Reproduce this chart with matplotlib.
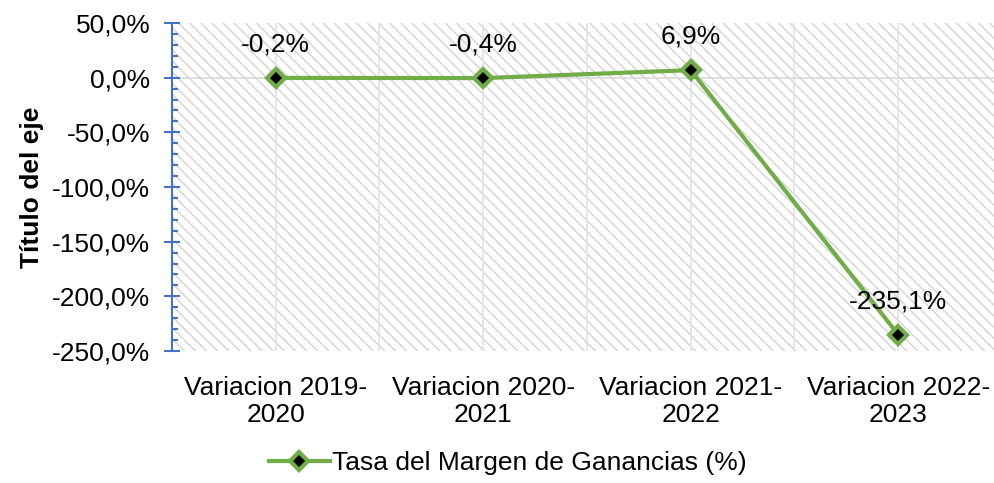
import numpy as np
import matplotlib.pyplot as plt
from matplotlib.ticker import MultipleLocator, FuncFormatter

plt.rcParams['font.family'] = ['Liberation Sans', 'DejaVu Sans']
plt.rcParams['hatch.linewidth'] = 1.1
plt.rcParams['hatch.color'] = '#d6d6d6'

categories = ["Variacion 2019-\n2020", "Variacion 2020-\n2021",
              "Variacion 2021-\n2022", "Variacion 2022-\n2023"]
values = [-0.2, -0.4, 6.9, -235.1]
labels = ["-0,2%", "-0,4%", "6,9%", "-235,1%"]
series_name = "Tasa del Margen de Ganancias (%)"

green = '#70AD47'
blue = '#4472C4'
fs = 19

fig = plt.figure(figsize=(9.95, 4.83), dpi=100)
ax = fig.add_axes([172 / 995, 132 / 483, 830 / 995, 328 / 483])

x = np.arange(len(categories))
ax.set_xlim(-0.5, len(categories) - 0.5)
ax.set_ylim(-250, 50)

ax.patch.set_facecolor('white')
ax.patch.set_hatch('\\\\\\')
ax.patch.set_edgecolor('#d6d6d6')
ax.patch.set_linewidth(0)

# light vertical gridlines at categories and between them
for g in np.arange(0, len(categories) - 0.4, 0.5):
    ax.axvline(g, color='#e3e3e3', lw=1.2, zorder=1)
ax.axhline(0, color='#d9d9d9', lw=1.2, zorder=1)

ax.plot(x, values, color=green, lw=3, marker='D', markersize=9,
        markerfacecolor='black', markeredgecolor=green, markeredgewidth=3,
        label=series_name, zorder=3)

for xi, v, t in zip(x, values, labels):
    ax.annotate(t, (xi, v), xytext=(0, 24), textcoords='offset points',
                ha='center', va='center', fontsize=fs)

for s in ['top', 'right', 'bottom']:
    ax.spines[s].set_visible(False)
ax.spines['left'].set_color(blue)
ax.spines['left'].set_linewidth(1.5)

ax.yaxis.set_major_locator(MultipleLocator(50))
ax.yaxis.set_minor_locator(MultipleLocator(10))
ax.yaxis.set_major_formatter(FuncFormatter(lambda v, p: f"{v:.1f}%".replace('.', ',')))
ax.tick_params(axis='y', which='major', direction='inout', length=11, width=1.5,
               color=blue, labelsize=fs, pad=10)
ax.tick_params(axis='y', which='minor', direction='in', length=4.5, width=1.5, color=blue)

ax.set_xticks(x)
ax.set_xticklabels(categories, fontsize=fs, linespacing=1.15)
ax.tick_params(axis='x', length=0, pad=18)

ax.set_ylabel("Título del eje", fontsize=fs, fontweight='bold')
ax.yaxis.set_label_coords(-128 / 830, 0.5)

fig.legend(loc='center', bbox_to_anchor=(508 / 995, 1 - 463 / 483), frameon=False,
           fontsize=fs, handlelength=2.3, handletextpad=0.1)

fig.savefig("out.png", dpi=100)
